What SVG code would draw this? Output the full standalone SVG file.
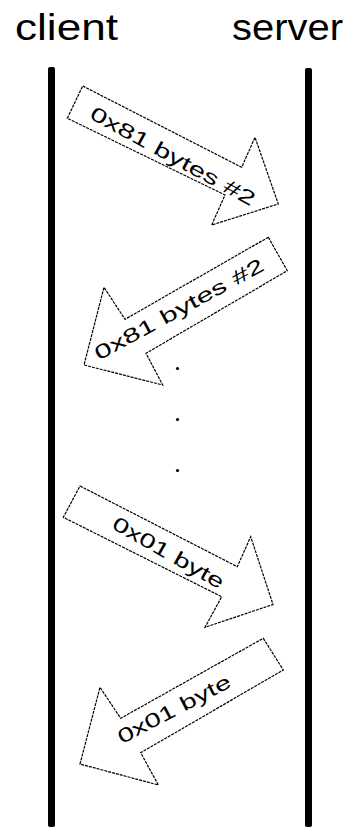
<svg xmlns="http://www.w3.org/2000/svg" width="355" height="829" viewBox="0 0 355 829">
<style>
.title{font-family:"Liberation Sans",Arial,sans-serif;font-size:37px;fill:#000}
.lbl{font-family:"Liberation Sans",Arial,sans-serif;font-size:20px;fill:#000}
.arrow{fill:#fff;stroke:#000;stroke-width:1.2;stroke-dasharray:3 1}
.life{fill:#000}
</style>
<rect width="355" height="829" fill="#fff"/>
<g id="client">
<text class="title" x="15" y="40" textLength="103" lengthAdjust="spacingAndGlyphs">client</text>
<rect class="life" x="48" y="67" width="7" height="760" rx="2"/>
</g>
<g id="server">
<text class="title" x="232" y="40" textLength="111" lengthAdjust="spacingAndGlyphs">server</text>
<rect class="life" x="305" y="68" width="7" height="759" rx="2"/>
</g>
<g id="connectors">
<g id="msg1">
<polygon class="arrow" points="82.7,86 241.7,167.3 255,137.3 278.3,204 211.7,225 225,195 67.3,118.3"/>
<text class="lbl" transform="translate(173,156) rotate(28.6)" text-anchor="middle" dominant-baseline="central" textLength="185" lengthAdjust="spacingAndGlyphs">0x81 bytes #2</text>
</g>
<g id="msg2">
<polygon class="arrow" points="268.3,237.3 287.3,270.7 146,353.3 162.7,385 84,365 104,287.3 125,319.3"/>
<text class="lbl" transform="translate(179,309) rotate(-28.7)" text-anchor="middle" dominant-baseline="central" textLength="190" lengthAdjust="spacingAndGlyphs">0x81 bytes #2</text>
</g>
<g id="dots">
<circle cx="177.5" cy="368.5" r="1.6"/>
<circle cx="177.5" cy="419.5" r="1.6"/>
<circle cx="177.5" cy="470.5" r="1.6"/>
</g>
<g id="msg3">
<polygon class="arrow" points="80,486 237.3,566.7 250.7,536.7 273,604.5 205,627.3 221.7,596.7 63.3,517.3"/>
<text class="lbl" transform="translate(168.5,552.5) rotate(29.6)" text-anchor="middle" dominant-baseline="central" textLength="125" lengthAdjust="spacingAndGlyphs">0x01 byte</text>
</g>
<g id="msg4">
<polygon class="arrow" points="263.3,638.3 283.3,670 140.7,752.7 158.3,785 80,764 100,687.3 120.7,718.3"/>
<text class="lbl" transform="translate(174,709) rotate(-27.7)" text-anchor="middle" dominant-baseline="central" textLength="125" lengthAdjust="spacingAndGlyphs">0x01 byte</text>
</g>
</g>
</svg>
